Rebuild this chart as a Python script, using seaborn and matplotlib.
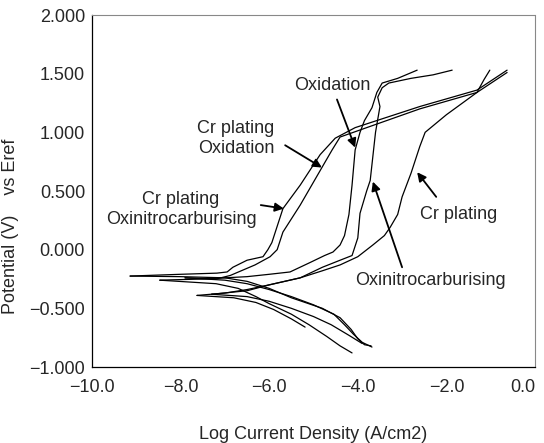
import numpy as np
import pandas as pd
import matplotlib
matplotlib.use("Agg")
import matplotlib.pyplot as plt
import seaborn as sns

# ---- data: log current density (x) and potential (y) ----
# Cr plating + Oxinitrocarburising
crnit_cath_x = [-3.70, -3.85, -4.00, -4.15, -4.40, -4.80, -5.50, -6.00, -6.50, -7.00, -8.00, -9.14]
crnit_cath_y = [-0.82, -0.81, -0.76, -0.68, -0.58, -0.50, -0.41, -0.33, -0.27, -0.24, -0.23, -0.225]
crnit_anod_x = [-9.14, -8.01, -7.18, -6.95, -6.82, -6.50, -6.14, -6.03, -5.94, -5.69, -5.30, -4.85, -4.51, -4.06, -2.60, -1.31, -0.63]
crnit_anod_y = [-0.225, -0.21, -0.20, -0.19, -0.15, -0.09, -0.06, 0.00, 0.06, 0.35, 0.55, 0.81, 0.95, 1.04, 1.22, 1.36, 1.53]

# Cr plating + Oxidation
crox_cath_x = [-3.68, -3.90, -4.10, -4.30, -4.54, -5.00, -5.50, -6.00, -6.50, -7.00, -7.90]
crox_cath_y = [-0.83, -0.79, -0.72, -0.64, -0.55, -0.47, -0.40, -0.34, -0.29, -0.26, -0.24]
crox_anod_x = [-7.90, -7.20, -6.88, -6.32, -5.98, -5.82, -5.69, -5.30, -4.81, -4.58, -4.40, -3.95, -2.60, -1.31, -0.63]
crox_anod_y = [-0.24, -0.25, -0.22, -0.13, -0.06, 0.00, 0.15, 0.38, 0.70, 0.85, 0.96, 1.02, 1.20, 1.34, 1.51]

# Oxidation
ox_cath_x = [-4.13, -4.40, -4.70, -5.10, -5.50, -6.00, -6.30, -6.70, -7.20, -8.47]
ox_cath_y = [-0.88, -0.82, -0.74, -0.64, -0.55, -0.46, -0.40, -0.33, -0.29, -0.26]
ox_anod_x = [-8.47, -7.50, -7.00, -6.50, -6.00, -5.53, -5.08, -4.75, -4.56, -4.40, -4.30, -4.20, -4.13, -4.06, -3.95, -3.85, -3.68, -3.57, -3.45, -3.10, -2.66]
ox_anod_y = [-0.26, -0.25, -0.24, -0.23, -0.21, -0.19, -0.11, -0.05, -0.02, 0.04, 0.12, 0.30, 0.55, 0.85, 1.00, 1.10, 1.21, 1.34, 1.42, 1.46, 1.53]

# Cr plating
cr_cath_x = [-5.19, -5.50, -5.90, -6.30, -6.80, -7.63]
cr_cath_y = [-0.66, -0.59, -0.51, -0.45, -0.41, -0.39]
cr_anod_x = [-7.63, -7.00, -6.50, -6.00, -5.30, -4.80, -4.40, -4.00, -3.66, -3.40, -3.27, -3.10, -3.00, -2.80, -2.60, -2.48, -2.00, -1.60, -1.31, -1.15, -1.02]
cr_anod_y = [-0.39, -0.37, -0.34, -0.30, -0.24, -0.18, -0.13, -0.06, 0.04, 0.12, 0.19, 0.30, 0.45, 0.65, 0.88, 1.00, 1.15, 1.26, 1.34, 1.45, 1.53]

# Oxinitrocarburising
nit_cath_x = [-3.90, -4.20, -4.60, -5.00, -5.50, -6.00, -6.50, -7.30]
nit_cath_y = [-0.80, -0.73, -0.64, -0.57, -0.50, -0.44, -0.40, -0.38]
nit_anod_x = [-7.30, -6.50, -6.00, -5.30, -4.80, -4.40, -4.13, -4.00, -3.95, -3.80, -3.72, -3.60, -3.50, -3.55, -3.45, -3.30, -2.80, -2.30, -1.87]
nit_anod_y = [-0.38, -0.35, -0.30, -0.24, -0.15, -0.09, -0.05, 0.10, 0.31, 0.50, 0.59, 1.00, 1.22, 1.30, 1.38, 1.42, 1.46, 1.49, 1.53]

x_ticks = [-10.0, -8.0, -6.0, -4.0, -2.0, 0.0]
x_tick_labels = ["\u221210.0", "\u22128.0", "\u22126.0", "\u22124.0", "\u22122.0", "0.0"]
y_ticks = [2.0, 1.5, 1.0, 0.5, 0.0, -0.5, -1.0]
y_tick_labels = ["2.000", "1.500", "1.000", "0.500", "0.000", "\u22120.500", "\u22121.000"]

segments = {
    "crnit_cath": (crnit_cath_x, crnit_cath_y), "crnit_anod": (crnit_anod_x, crnit_anod_y),
    "crox_cath": (crox_cath_x, crox_cath_y), "crox_anod": (crox_anod_x, crox_anod_y),
    "ox_cath": (ox_cath_x, ox_cath_y), "ox_anod": (ox_anod_x, ox_anod_y),
    "cr_cath": (cr_cath_x, cr_cath_y), "cr_anod": (cr_anod_x, cr_anod_y),
    "nit_cath": (nit_cath_x, nit_cath_y), "nit_anod": (nit_anod_x, nit_anod_y),
}
rows = []
for name, (xs, ys) in segments.items():
    for i, (a, b) in enumerate(zip(xs, ys)):
        rows.append({"seg": name, "order": i, "logi": a, "E": b})
df = pd.DataFrame(rows)

sns.set_theme(style="white")
plt.rcParams["font.family"] = ["Liberation Sans", "DejaVu Sans"]

fig = plt.figure(figsize=(5.44, 4.43), dpi=100)
ax = fig.add_axes([92 / 544, 1 - 367 / 443, (535 - 92) / 544, (367 - 15) / 443])

sns.lineplot(data=df, x="logi", y="E", units="seg", estimator=None, sort=False,
             color="black", linewidth=0.9, ax=ax)

ax.set_xlim(-10, 0)
ax.set_ylim(-1, 2)
ax.set_xticks(x_ticks)
ax.set_xticklabels(x_tick_labels, fontsize=13)
ax.get_xticklabels()[-1].set_horizontalalignment("right")
ax.set_xticks(np.arange(-9, 0, 2), minor=True)
ax.set_yticks(y_ticks)
ax.set_yticklabels(y_tick_labels, fontsize=13)
ax.tick_params(axis="x", which="both", direction="inout", length=6, width=0.8, color="black", pad=6)
ax.tick_params(axis="y", which="both", direction="out", length=3, width=0.8, color="black", pad=2)
ax.set_xlabel("Log Current Density (A/cm2)", fontsize=13, labelpad=21)
ax.set_ylabel("Potential (V)    vs Eref", fontsize=13)
ax.yaxis.set_label_coords(-0.165, 0.40)

for s in ["left", "bottom"]:
    ax.spines[s].set_color("black")
    ax.spines[s].set_linewidth(0.9)
for s in ["top", "right"]:
    ax.spines[s].set_color("#888888")
    ax.spines[s].set_linewidth(0.8)
    ax.spines[s].set_linestyle((0, (2, 1)))

arrow = dict(arrowstyle="-|>", color="black", lw=1.3, mutation_scale=13, shrinkA=0, shrinkB=0)
ax.text(-4.58, 1.40, "Oxidation", fontsize=13, ha="center", va="center")
ax.annotate("", xy=(-4.06, 0.87), xytext=(-4.47, 1.28), arrowprops=arrow)
ax.text(-6.75, 0.95, "Cr plating\nOxidation", fontsize=13, ha="center", va="center", linespacing=1.25)
ax.annotate("", xy=(-4.81, 0.70), xytext=(-5.64, 0.89), arrowprops=arrow)
ax.text(-7.99, 0.34, "Cr plating\nOxinitrocarburising", fontsize=13, ha="center", va="center", linespacing=1.25)
ax.annotate("", xy=(-5.67, 0.35), xytext=(-6.19, 0.38), arrowprops=arrow)
ax.text(-1.72, 0.30, "Cr plating", fontsize=13, ha="center", va="center")
ax.annotate("", xy=(-2.66, 0.66), xytext=(-2.23, 0.45), arrowprops=arrow)
ax.text(-2.37, -0.26, "Oxinitrocarburising", fontsize=13, ha="center", va="center")
ax.annotate("", xy=(-3.66, 0.58), xytext=(-3.0, -0.15), arrowprops=arrow)

fig.savefig("out.png", dpi=100)
